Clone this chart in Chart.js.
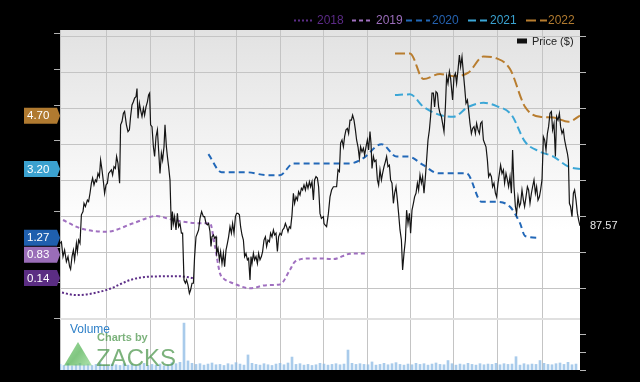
<!DOCTYPE html>
<html><head><meta charset="utf-8">
<script src="https://cdn.jsdelivr.net/npm/chart.js@4"></script>
<style>html,body{margin:0;padding:0;background:#000;overflow:hidden}</style>
</head><body>
<canvas id="c" width="640" height="382"></canvas>
<script>
// ---------- DATA ----------
const priceDay = [0,0.7,1.5,2.3,3.2,4,4.8,5.3,6,6.7,7.3,8.2,8.7,9.3,10,10.7,11.5,12,12.7,13.7,14.3,15,15.7,16.3,17,17.7,18.3,19,19.7,20.3,21,21.7,22.3,23,23.7,24.3,25,25.7,26.3,27,27.7,28.3,29,29.8,30.3,31,31.7,32.3,33.2,34,34.7,35.3,36,36.7,37.3,38,38.5,39,39.7,40.3,41,41.7,42.3,43,43.7,44.3,44.8,45.3,46,46.7,47.3,48,48.7,49.3,50,50.7,51.3,52,52.5,53.2,53.7,54.3,55,55.7,56.2,56.7,57.3,58,58.7,59.3,60,60.7,61.3,62,62.7,63.3,64,64.7,65.3,66,
66.7,67.3,68,68.7,69.3,70,70.8,71.7,72.3,73,73.7,74.3,75,75.5,76,76.7,77.3,78,78.3,79,79.7,80.3,81,81.7,82.3,83,83.7,84.3,85,85.7,86.3,87,87.7,88.3,89,89.7,90.3,91,91.7,92.3,93,93.7,94.3,95,95.5,96,96.7,97.3,98,98.7,99.3,100,100.7,101.3,102,102.7,103.3,104,104.7,105.3,106,106.7,107.3,108,108.7,109.3,110,110.7,111.3,112,112.7,113.3,114,114.7,115.3,116,116.7,117.3,118,118.7,119.3,120,120.7,121.3,122,122.7,123.3,124,124.7,125.3,126,126.7,127.3,128,128.7,129.3,130,130.7,131.7,132,
132.5,133.3,134.2,135,135.8,136.7,137.5,138.3,139,139.7,140.3,141,141.7,142.3,143,143.7,144.3,145,145.7,146.3,147,147.7,148.3,149,149.7,150.3,151,151.7,152.3,153,153.7,154.3,155,155.5,156,156.7,157.3,158,158.7,159.3,160,160.7,161.3,162,162.7,163.3,164,164.7,165.3,166,166.7,167.3,168,168.7,169.3,170,170.7,171.3,172,172.7,173.3,174,174.7,175.3,176,176.7,177.3,178,178.7,179.3,180,180.7,181.3,182,182.7,183.3,184,184.7,185.3,186,186.7,187.3,188,188.7,189.3,190,190.7,191.3,192,192.7,193.3,194,194.7,195.3,
196.3,197,197.7,198.3,199,199.7,200.3,201,201.7,202.3,203,203.7,204.3,205,205.7,206.3,207,207.7,208.3,209,209.7,210.3,211,211.7,212.3,213,213.7,214.3,215,215.7,216.3,217,217.7,218.3,219,219.7,220.3,221,221.7,222.3,223,223.7,224.3,225,225.7,226.3,227,227.7,228.3,229,229.7,230.3,231,231.7,232.3,233,233.7,234.3,235,235.7,236.3,237,237.7,238.3,239,239.7,240.3,241,241.7,242.3,243,243.7,244.3,245,245.7,246.3,247,247.7,248.3,249,249.7,250.3,251,251.7,252.3,253,253.7,254.2,254.7,255.3,256,256.7,257.3,258,258.7,259.3,260];
const priceClose = [82.7,83.1,79.0,80.8,77.6,79.0,76.2,75.5,79.0,80.8,78.1,82.7,80.4,83.6,82.7,90.6,91.5,93.8,92.9,94.7,94.3,96.6,99.4,100.8,98.9,100.3,99.8,102.1,101.2,105.8,103.1,99.8,96.6,98.9,99.4,102.1,102.6,103.1,101.7,104.0,103.5,106.8,104.9,99.4,115.6,116.5,118.8,119.3,115.6,113.7,114.2,117.9,121.1,122.0,123.0,123.4,125.7,117.4,121.6,119.7,117.9,120.2,118.3,120.6,122.0,123.9,124.4,115.6,115.1,109.5,106.8,112.3,114.2,108.6,102.1,107.7,105.8,109.5,115.6,109.5,106.8,104.0,100.3,86.4,91.5,88.2,90.1,86.4,91.0,87.3,88.2,85.5,85.5,72.5,71.6,72.5,71.1,68.8,69.7,71.6,
71.6,79.0,84.5,85.5,86.4,89.6,91.5,90.1,90.1,88.2,87.8,88.2,85.9,81.8,84.5,85.0,84.1,84.5,79.9,81.3,78.1,80.4,77.1,79.9,76.2,80.8,82.7,84.5,87.3,85.5,88.2,85.5,90.1,91.0,91.0,90.6,87.3,85.0,83.6,79.0,79.9,78.1,78.5,72.5,79.0,77.1,79.9,78.1,79.0,77.1,79.9,78.1,79.0,80.4,83.6,84.5,81.8,83.6,83.1,85.5,84.5,86.4,85.0,85.5,80.4,84.5,85.5,85.0,86.4,86.9,88.2,87.3,85.9,87.3,86.9,90.6,96.6,93.8,95.6,94.7,97.0,96.1,98.0,97.5,98.9,97.5,99.4,98.0,99.8,98.4,99.8,94.7,100.3,101.2,100.8,98.4,91.0,89.6,90.1,88.2,
87.8,87.3,91.0,95.6,97.5,98.4,98.4,98.4,103.1,102.6,110.5,111.4,109.5,112.3,114.2,114.6,113.2,116.9,116.9,118.3,116.9,114.2,111.4,109.5,106.3,109.5,108.1,109.1,107.2,109.5,111.4,108.6,113.7,110.5,103.5,106.8,105.4,105.8,100.3,98.9,103.1,100.3,102.1,104.0,105.4,106.8,104.0,104.4,100.3,99.4,93.8,96.6,98.4,94.7,91.0,86.4,83.6,75.3,79.9,83.6,91.9,88.2,91.0,85.5,91.9,93.8,95.6,96.6,99.4,97.5,101.7,99.4,101.2,96.6,101.2,105.8,111.4,114.2,117.9,124.4,124.4,120.6,124.8,124.4,120.6,118.8,117.9,116.0,113.7,120.6,129.0,127.1,130.4,128.5,
122.5,129.0,129.9,127.1,130.8,135.0,131.8,134.5,129.9,126.2,121.6,122.5,119.7,116.0,113.2,114.6,115.1,113.2,116.0,114.2,113.2,116.0,116.5,111.4,110.5,109.5,105.8,101.2,102.1,101.2,98.4,99.4,96.6,95.6,99.4,102.1,104.4,102.1,103.1,99.4,102.1,100.3,98.4,101.2,96.6,108.6,98.4,92.9,91.0,95.6,92.9,93.8,97.5,94.7,92.9,95.6,98.4,97.5,93.8,96.6,98.4,100.3,96.6,98.4,94.7,95.6,97.5,100.3,112.3,111.4,108.6,113.2,115.1,118.8,119.3,114.2,116.0,106.8,117.9,116.9,118.8,115.1,113.2,114.2,111.4,109.5,107.7,105.8,93.8,92.9,90.1,96.6,97.5,94.7,91.0,89.2,87.57];

const volume = [1.6,1.3,1.8,1.2,1.5,1.9,1.4,1.7,1.3,1.6,
2.0,1.4,1.2,1.7,1.5,1.3,1.8,1.4,1.6,1.2,
1.5,1.9,1.3,1.6,1.4,1.7,1.2,1.5,2.1,1.8,
2.2,13.4,2.6,1.9,1.6,1.8,1.4,1.7,2.0,1.5,
1.6,1.3,1.8,1.5,2.1,1.7,1.4,4.3,1.9,1.6,
1.4,1.8,1.5,1.3,1.7,1.9,1.5,2.0,3.7,1.6,
1.8,1.4,1.6,1.3,1.5,1.9,1.7,1.4,1.6,1.8,
1.5,1.7,5.7,1.9,1.6,1.8,1.6,1.5,2.3,1.4,
1.6,1.9,1.5,1.8,2.1,1.6,1.4,1.7,1.5,1.9,
1.6,1.8,1.4,1.7,2.0,1.6,1.5,2.7,1.8,1.4,
1.7,1.5,1.9,1.6,1.4,1.8,1.5,1.7,1.6,1.9,
1.5,1.8,1.6,1.7,3.8,1.4,1.8,1.5,1.7,1.6,
2.7,1.9,1.6,1.5,1.8,2.0,1.6,2.2,1.5,1.7];
const volumeDay = volume.map((v, i) => i * 2);

const eps2018Day = [1,8,23,36,45,60,66.5];
const eps2018 = [-0.27,-0.34,-0.20,0.10,0.18,0.19,0.14];
const eps2019Day = [1.5,10,23.3,36.7,48.3,56.7,70,75,77.5,80,81.7,86.7,95,103.3,110,115,117.5,125,130,136.5,145,152.5];
const eps2019 = [1.77,1.54,1.44,1.68,1.88,1.77,1.68,1.68,1.02,0.27,0.13,-0.01,-0.15,-0.06,-0.04,0.37,0.60,0.69,0.69,0.67,0.82,0.83];
const eps2020Day = [74.2,80.8,93.3,103.3,110,116.7,130,145,151.5,160.8,168.3,174.2,181.7,189.2,203.3,210.8,218.3,225,230,232.5,240];
const eps2020 = [3.62,3.11,3.11,3.03,3.03,3.36,3.36,3.36,3.50,3.90,3.55,3.55,3.31,3.08,3.08,2.28,2.28,2.14,1.68,1.32,1.27];
const eps2021Day = [167.5,175,181.7,190,196.7,204.2,211.7,218.3,225.8,232.5,240,246.7,254.2,260];
const eps2021 = [5.28,5.30,4.95,4.72,4.67,4.95,5.06,4.97,4.72,3.97,3.69,3.55,3.27,3.20];
const eps2022Day = [167.5,175,181.7,190,196.7,204.2,211.7,218.3,225,232.5,240,246.7,254.2,260];
const eps2022 = [6.45,6.45,5.73,5.87,5.81,5.91,6.36,6.31,6.01,4.95,4.67,4.65,4.53,4.70];

const epsYears = ['2018','2019','2020','2021','2022'];
const monthTickDays = [0,23,45,67,88,110,131.5,153.5,175,196.5,218.5,241];
const priceTicks = [70,80,90,100,110,120,130,140];
const epsTicks = [-1,0,1,2,3,4,5,6,7];
const volumeTicks = [0,5,10];
const lastPrice = 87.57;

// ---------- STYLE ----------
const FONT = '"Liberation Sans", Arial, sans-serif';
const P_MIN = 47.5, P_MAX = 141.94, E_MIN = -2.444, E_MAX = 7.107, V_MAX = 97.14, SEP_PRICE = 61.67;
const epsStyle = [
  {color:'#5c2d87', text:'#5b2a86', tag:'#5b2d83', dash:[2,2]},
  {color:'#a070c0', text:'#9b6dbb', tag:'#9a6db8', dash:[4,3]},
  {color:'#2268b8', text:'#2562b0', tag:'#1f5fae', dash:[6,4]},
  {color:'#3ba6d6', text:'#3aa2d0', tag:'#3ba1cf', dash:[8,4]},
  {color:'#b87d2f', text:'#b07a2f', tag:'#b07a30', dash:[10,4]}
];
const epsDays = [eps2018Day, eps2019Day, eps2020Day, eps2021Day, eps2022Day];
const epsVals = [eps2018, eps2019, eps2020, eps2021, eps2022];

const zip = (xs, ys) => xs.map((x, i) => ({x, y: ys[i]}));

const datasets = [
  {type:'line', label:'Price ($)', data: zip(priceDay, priceClose), yAxisID:'y',
   borderColor:'#151515', borderWidth:1.2, pointRadius:0, tension:0, order:0}
];
epsYears.forEach((yr, k) => {
  datasets.push({type:'line', label: yr, data: zip(epsDays[k], epsVals[k]), yAxisID:'yE',
    borderColor: epsStyle[k].color, borderWidth:2, borderDash: epsStyle[k].dash,
    pointRadius:0, cubicInterpolationMode:'monotone', order:1});
});
datasets.push({type:'bar', label:'Volume', data: zip(volumeDay, volume), yAxisID:'yV',
  backgroundColor:'rgba(140,185,228,0.75)', barThickness:2, grouped:false, order:2});

const bgPlugin = {
  id:'bg',
  beforeDraw(chart){
    const {ctx, chartArea:a, width, height} = chart;
    const sepY = chart.scales.y.getPixelForValue(SEP_PRICE);
    ctx.save();
    ctx.fillStyle = '#000'; ctx.fillRect(0,0,width,height);
    const g = ctx.createLinearGradient(0, a.top, 0, a.top + 200);
    g.addColorStop(0,'#e2e2e2'); g.addColorStop(1,'#ffffff');
    ctx.fillStyle = g; ctx.fillRect(a.left, a.top, a.right - a.left, sepY - a.top);
    ctx.fillStyle = '#fff'; ctx.fillRect(a.left, sepY, a.right - a.left, a.bottom - sepY);
    ctx.restore();
  }
};

const overlayPlugin = {
  id:'overlay',
  afterDraw(chart){
    const {ctx} = chart;
    ctx.save();
    // top legend
    const lineStart = [294,352,406,468,526], lineLen = [19,21,24,19,21], textX = [317,376,432,490,548];
    ctx.font = '12px ' + FONT; ctx.textBaseline = 'middle'; ctx.textAlign = 'left';
    epsYears.forEach((yr, k) => {
      ctx.strokeStyle = epsStyle[k].color; ctx.lineWidth = 2; ctx.setLineDash(epsStyle[k].dash);
      ctx.beginPath(); ctx.moveTo(lineStart[k], 20.5); ctx.lineTo(lineStart[k] + lineLen[k], 20.5); ctx.stroke();
      ctx.setLineDash([]);
      ctx.fillStyle = epsStyle[k].text; ctx.fillText(yr, textX[k], 21);
    });
    // price legend
    ctx.fillStyle = '#111'; ctx.fillRect(517, 38.5, 10, 5);
    ctx.font = '11px ' + FONT; ctx.fillStyle = '#222'; ctx.fillText('Price ($)', 532, 41.5);
    // volume label and watermark
    ctx.font = '12px ' + FONT; ctx.fillStyle = '#2f80c8'; ctx.fillText('Volume', 70, 330);
    ctx.globalAlpha = 0.72;
    const tg = ctx.createLinearGradient(64, 342, 92, 365);
    tg.addColorStop(0,'#7fd07f'); tg.addColorStop(0.5,'#4fb04f'); tg.addColorStop(1,'#8fd88f');
    ctx.fillStyle = tg;
    ctx.beginPath(); ctx.moveTo(64,365.5); ctx.lineTo(92,365.5); ctx.lineTo(78,342); ctx.closePath(); ctx.fill();
    ctx.fillStyle = '#4a944a';
    ctx.font = 'bold 11px ' + FONT; ctx.fillText('Charts by', 97, 338);
    ctx.font = '24px ' + FONT; ctx.textBaseline = 'alphabetic'; ctx.fillText('ZACKS', 96, 365.5);
    ctx.globalAlpha = 1;
    // EPS tags
    const yE = chart.scales.yE;
    const tags = epsVals.map((arr, k) => ({v: arr[arr.length - 1], color: epsStyle[k].tag, y: yE.getPixelForValue(arr[arr.length - 1])}));
    tags.sort((a, b) => a.y - b.y);
    for (let i = 1; i < tags.length; i++) if (tags[i].y - tags[i-1].y < 17) tags[i].y = tags[i-1].y + 17;
    ctx.textBaseline = 'middle'; ctx.font = '11.5px ' + FONT;
    tags.forEach(t => {
      ctx.fillStyle = t.color;
      ctx.beginPath();
      ctx.moveTo(24, t.y - 8); ctx.lineTo(57, t.y - 8); ctx.lineTo(60, t.y); ctx.lineTo(57, t.y + 8); ctx.lineTo(24, t.y + 8);
      ctx.closePath(); ctx.fill();
      ctx.fillStyle = '#fff'; ctx.fillText(t.v.toFixed(2), 27, t.y + 0.5);
    });
    ctx.restore();
  }
};

new Chart(document.getElementById('c'), {
  type:'line',
  data:{datasets},
  plugins:[bgPlugin, overlayPlugin],
  options:{
    responsive:false, animation:false, devicePixelRatio:1,
    layout:{padding:{top:30, bottom:12, left:0, right:0}},
    plugins:{legend:{display:false}, tooltip:{enabled:false}},
    scales:{
      x:{type:'linear', min:0, max:260, offset:false, border:{display:false},
         ticks:{display:false}, grid:{color:'#c4c4c4', drawTicks:false, offset:false},
         afterBuildTicks(s){ s.ticks = monthTickDays.map(v => ({value:v})); },
         afterFit(s){ s.height = 0; }},
      y:{type:'linear', position:'right', min:P_MIN, max:P_MAX, border:{display:false},
         afterBuildTicks(s){
           const t = priceTicks.map(v => ({value:v, kind:'grid'}));
           t.push({value:SEP_PRICE, kind:'sep'});
           volumeTicks.forEach(v => t.push({value: P_MIN + v / V_MAX * (P_MAX - P_MIN), kind:'vol'}));
           t.push({value:lastPrice, kind:'last'});
           t.sort((a, b) => a.value - b.value);
           s.ticks = t;
         },
         afterFit(s){ s.width = 60; },
         grid:{
           color: c => c.tick && c.tick.kind === 'grid' ? '#c4c4c4' : (c.tick && c.tick.kind === 'sep' ? '#e0e0e0' : 'rgba(0,0,0,0)'),
           lineWidth: c => c.tick && c.tick.kind === 'sep' ? 2 : 1,
           tickColor: c => c.tick && (c.tick.kind === 'grid' || c.tick.kind === 'vol') ? '#b8b8b8' : 'rgba(0,0,0,0)',
           tickLength:6, drawTicks:true
         },
         ticks:{display:true, autoSkip:false, padding:4, color:'#e8e8e8', font:{family:FONT, size:11},
           callback:(v, i, ticks) => ticks[i].kind === 'last' ? v.toFixed(2) : ''}},
      yE:{type:'linear', position:'left', min:E_MIN, max:E_MAX, border:{display:false},
         afterBuildTicks(s){ s.ticks = epsTicks.map(v => ({value:v})); },
         afterFit(s){ s.width = 60; },
         grid:{drawOnChartArea:false, drawTicks:true, tickLength:6, tickColor:'#b0b0b0'},
         ticks:{display:false}},
      yV:{type:'linear', display:false, min:0, max:V_MAX}
    }
  }
});
</script>
</body></html>
